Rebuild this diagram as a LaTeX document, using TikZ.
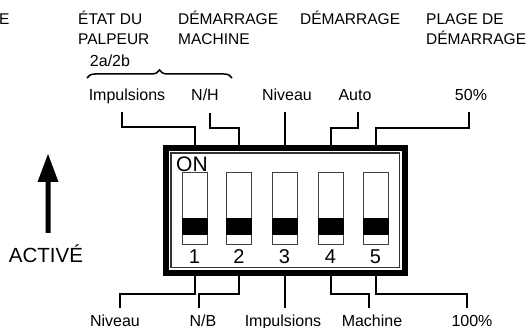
\documentclass[tikz,border=0pt]{standalone}
\usepackage{fontspec}
\setmainfont{Liberation Sans}
\usetikzlibrary{decorations.pathreplacing,calc}
\begin{document}
\begin{tikzpicture}[x=1pt,y=-1pt,
  lbl/.style={font=\fontsize{16}{18}\selectfont, inner sep=0, anchor=base},
  hdr/.style={font=\fontsize{15.5}{18}\selectfont, inner sep=0, anchor=base west},
  conn/.style={line width=2pt},
  sw/.style={draw=black!75, line width=1pt, minimum width=25pt, minimum height=72pt, inner sep=0},
  num/.style={font=\fontsize{20}{24}\selectfont, inner sep=0, anchor=base},
  band/.style={fill=black},
]
\useasboundingbox (0,0) rectangle (529,328);

% headers
\node[hdr] (h0) at (-1,25) {E};
\node[hdr] (h1) at (78,25) {ÉTAT DU};
\node[hdr] (h1b) at (78,45) {PALPEUR};
\node[hdr] (h2) at (178,25) {DÉMARRAGE};
\node[hdr] (h2b) at (178,45) {MACHINE};
\node[hdr] (h3) at (300,25) {DÉMARRAGE};
\node[hdr] (h4) at (426,25) {PLAGE DE};
\node[hdr] (h4b) at (426,45) {DÉMARRAGE};
\node[lbl] (sub) at (110,66.5) {2a/2b};

% brace
\draw[line width=1.5pt, decorate, decoration={brace, amplitude=8pt}] (87,78) -- (232,78);

% DIP box
\node[draw, line width=6pt, minimum width=239pt, minimum height=125pt, inner sep=0] (box) at (285.5,210.5) {};
\draw[line width=1.2pt, black!80] ($(box.north west)+(8,8)$) rectangle ($(box.south east)+(-8.5,-8.5)$);

% switches
\node[sw] (s1) at (194.5,209) {};
\node[sw] (s2) at (239,209) {};
\node[sw] (s3) at (284.5,209) {};
\node[sw] (s4) at (330.5,209) {};
\node[sw] (s5) at (375.5,209) {};
\foreach \s in {s1,s2,s3,s4,s5}{
  \fill[band] (\s.west |- 0,218) rectangle (\s.east |- 0,235);
}
\node[font=\fontsize{21}{24}\selectfont, inner sep=0, anchor=base west] (on) at (176,172) {ON};
\node[num] (n1) at (194.5,263) {1};
\node[num] (n2) at (239,263) {2};
\node[num] (n3) at (284.5,263) {3};
\node[num] (n4) at (330.5,263) {4};
\node[num] (n5) at (375.5,263) {5};

% arrow and ACTIVE
\fill (45.5,233) -- (45.5,182) -- (37.5,182) -- (48,154) -- (58.5,182) -- (50.5,182) -- (50.5,233) -- cycle;
\node[font=\fontsize{20.5}{24}\selectfont, inner sep=0, anchor=base] (act) at (46,262) {ACTIVÉ};

% top labels
\node[lbl] (t1) at (127,101) {Impulsions};
\node[lbl] (t2) at (205,101) {N/H};
\node[lbl] (t3) at (287,101) {Niveau};
\node[lbl] (t4) at (355,101) {Auto};
\node[lbl] (t5) at (471,101) {50\%};
\coordinate (e1) at (122,112);
\coordinate (e2) at (209.5,113);
\coordinate (e3) at (284.5,112);
\coordinate (e4) at (358,112);
\coordinate (e5) at (469,112);
\draw[conn] (s1 |- box.north) |- (e1 |- 0,127.5) -- (e1);
\draw[conn] (s2 |- box.north) |- (e2 |- 0,128) -- (e2);
\draw[conn] (s3 |- box.north) -- (e3);
\draw[conn] (s4 |- box.north) |- (e4 |- 0,128) -- (e4);
\draw[conn] (s5 |- box.north) |- (e5 |- 0,128) -- (e5);

% bottom labels
\node[lbl] (b1) at (115,326) {Niveau};
\node[lbl] (b2) at (203,326) {N/B};
\node[lbl] (b3) at (283,326) {Impulsions};
\node[lbl] (b4) at (372,326) {Machine};
\node[lbl] (b5) at (472,326) {100\%};
\coordinate (f1) at (120,308);
\coordinate (f2) at (199,308);
\coordinate (f3) at (284.5,308);
\coordinate (f4) at (369,308);
\coordinate (f5) at (467,308);
\draw[conn] (s1 |- box.south) |- (f1 |- 0,293.5) -- (f1);
\draw[conn] (s2 |- box.south) |- (f2 |- 0,294) -- (f2);
\draw[conn] (s3 |- box.south) -- (f3);
\draw[conn] (s4 |- box.south) |- (f4 |- 0,294) -- (f4);
\draw[conn] (s5 |- box.south) |- (f5 |- 0,294) -- (f5);
\end{tikzpicture}
\end{document}
